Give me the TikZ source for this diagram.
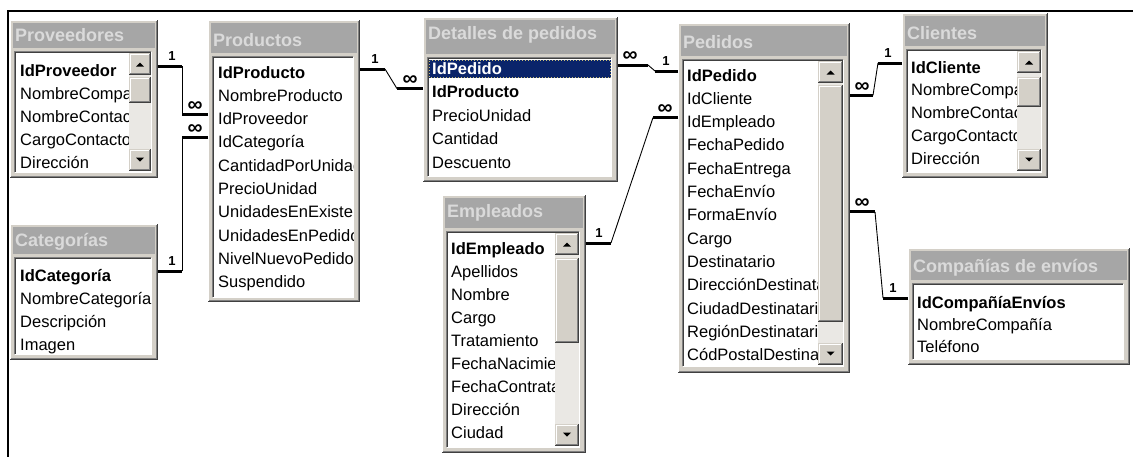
\documentclass[tikz,border=0pt]{standalone}
\usepackage{fontspec}
\setmainfont{Liberation Sans}
\usetikzlibrary{calc}
\definecolor{face}{RGB}{212,208,200}
\definecolor{btnshadow}{RGB}{128,128,128}
\definecolor{dkshadow}{RGB}{64,64,64}
\definecolor{tband}{RGB}{166,166,166}
\definecolor{ttext}{RGB}{218,218,218}
\definecolor{track}{RGB}{234,232,228}
\definecolor{navy}{RGB}{10,36,106}
\definecolor{focus}{RGB}{200,190,120}
\tikzset{
 tbl/.style={fill=face, inner sep=0, outer sep=0, draw=none},
 ttl/.style={anchor=west, inner sep=0, text=ttext, font=\bfseries\fontsize{18}{18}\selectfont},
 rowtxt/.style={anchor=base west, inner sep=0, font=\fontsize{16.5}{18}\selectfont},
 relthick/.style={line width=3pt},
 relthin/.style={line width=0.9pt},
 cardone/.style={inner sep=0, font=\bfseries\fontsize{13}{13}\selectfont},
 cardmany/.style={inner sep=0, font=\bfseries\fontsize{21}{21}\selectfont},
}
% name, x0, y0, x1, y1, title, titleY, listTop, listBottom
\newcommand\acctbl[9]{%
 \node[tbl, minimum width={#4-#2}, minimum height={#5-#3}, anchor=north west] (#1) at (#2,#3) {};
 \draw[white, line width=1pt] (#2+0.5,#5) -- (#2+0.5,#3+0.5) -- (#4,#3+0.5);
 \draw[btnshadow, line width=1pt] (#4-1.5,#3+1) -- (#4-1.5,#5-1.5) -- (#2+1,#5-1.5);
 \draw[dkshadow, line width=1pt] (#4-0.5,#3) -- (#4-0.5,#5-0.5) -- (#2,#5-0.5);
 \fill[tband] (#2+3,#3+3) rectangle (#4-3,#8-4);
 \node[ttl] (#1t) at (#2+5,#7) {#6};
 \fill[white] (#2+5,#8) rectangle (#4-7,#9);
 \draw[btnshadow, line width=1pt] (#2+4.5,#9) -- (#2+4.5,#8-0.5) -- (#4-7,#8-0.5);
 \draw[dkshadow, line width=1pt] (#2+5.5,#9) -- (#2+5.5,#8+0.5) -- (#4-7,#8+0.5);
 \draw[white, line width=1pt] (#2+5,#9+0.5) -- (#4-6.5,#9+0.5) -- (#4-6.5,#8);
}
\newcommand\accrows[5]{\foreach \rw [count=\i] in {#5}{\node[rowtxt] (#1\i) at (#2,{#3+(\i-1)*#4}) {\rw};}}
\newcommand\accbtn[4]{%
 \fill[face] (#1,#2) rectangle (#3,#4);
 \draw[white, line width=1pt] (#1+1.5,#4-1) -- (#1+1.5,#2+1.5) -- (#3-1,#2+1.5);
 \draw[btnshadow, line width=1pt] (#3-1.5,#2+1) -- (#3-1.5,#4-1.5) -- (#1+1,#4-1.5);
 \draw[dkshadow, line width=1pt] (#3-0.5,#2) -- (#3-0.5,#4-0.5) -- (#1,#4-0.5);
}
% x0 x1 top thumbTop thumbBot bottom
\newcommand\accsb[6]{%
 \fill[track] (#1,#3) rectangle (#2,#6);
 \accbtn{#1}{#3}{#2}{#3+22}
 \accbtn{#1}{#4}{#2}{#5}
 \accbtn{#1}{#6-22}{#2}{#6}
 \fill ({(#1+#2)/2-4},#3+13.5) -- ({(#1+#2)/2+4},#3+13.5) -- ({(#1+#2)/2},#3+9.5) -- cycle;
 \fill ({(#1+#2)/2-4},#6-13.5) -- ({(#1+#2)/2+4},#6-13.5) -- ({(#1+#2)/2},#6-9.5) -- cycle;
}
\begin{document}
\begin{tikzpicture}[x=1pt,y=-1pt]
\useasboundingbox (0,0) rectangle (1133,456);
\fill[white] (0,0) rectangle (1133,456);
\draw[line width=2.2pt] (8,457) -- (8,11) -- (1134,11);

% Proveedores
\acctbl{prov}{10}{20}{158}{178}{Proveedores}{35}{52}{172}
\begin{scope}\clip (16,53) rectangle (129,171);
\accrows{prov}{20}{76}{23}{\textbf{IdProveedor},NombreCompañía,NombreContacto,CargoContacto,Dirección}
\end{scope}
\accsb{129}{151}{53}{77}{103}{171}

% Categorias
\acctbl{cat}{10}{224}{158}{360}{Categorías}{242}{258}{354}
\begin{scope}\clip (16,259) rectangle (151,353);
\accrows{cat}{20}{281}{23}{\textbf{IdCategoría},NombreCategoría,Descripción,Imagen}
\end{scope}

% Productos
\acctbl{prod}{208}{20}{360}{302}{Productos}{40}{57}{297}
\begin{scope}\clip (214,58) rectangle (353,296);
\accrows{prod}{218}{78}{23.3}{\textbf{IdProducto},NombreProducto,IdProveedor,IdCategoría,CantidadPorUnidad,PrecioUnidad,UnidadesEnExistencia,UnidadesEnPedido,NivelNuevoPedido,Suspendido}
\end{scope}

% Detalles de pedidos
\acctbl{det}{423}{17}{618}{182}{Detalles de pedidos}{35}{58}{176}
\begin{scope}\clip (429,59) rectangle (611,175);
\fill[navy] (429,60) rectangle (611,78);
\draw[focus, dotted, line width=1pt] (429.5,60.5) rectangle (610.5,77.5);
\accrows{det}{432}{74}{23.6}{\textcolor{white}{\textbf{IdPedido}},\textbf{IdProducto},PrecioUnidad,Cantidad,Descuento}
\end{scope}

% Empleados
\acctbl{emp}{442}{195}{586}{453}{Empleados}{213}{232}{447}
\begin{scope}\clip (448,233) rectangle (555,446);
\accrows{emp}{451}{254}{23.1}{\textbf{IdEmpleado},Apellidos,Nombre,Cargo,Tratamiento,FechaNacimiento,FechaContratación,Dirección,Ciudad}
\end{scope}
\accsb{555}{579}{233}{258}{343}{446}

% Pedidos
\acctbl{ped}{678}{23}{850}{373}{Pedidos}{42}{60}{366}
\begin{scope}\clip (684,61) rectangle (818,365);
\accrows{ped}{687}{81}{23.3}{\textbf{IdPedido},IdCliente,IdEmpleado,FechaPedido,FechaEntrega,FechaEnvío,FormaEnvío,Cargo,Destinatario,DirecciónDestinatario,CiudadDestinatario,RegiónDestinatario,CódPostalDestinatario}
\end{scope}
\accsb{818}{843}{61}{85}{322}{365}

% Clientes
\acctbl{cli}{902}{13}{1048}{178}{Clientes}{33}{50}{172}
\begin{scope}\clip (908,51) rectangle (1017,171);
\accrows{cli}{911}{73}{22.8}{\textbf{IdCliente},NombreCompañía,NombreContacto,CargoContacto,Dirección}
\end{scope}
\accsb{1017}{1041}{51}{77}{107}{171}

% Compañias de envios
\acctbl{comp}{908}{248}{1130}{365}{Compañías de envíos}{268}{284}{359}
\begin{scope}\clip (914,285) rectangle (1123,358);
\accrows{comp}{917}{308}{22}{\textbf{IdCompañíaEnvíos},NombreCompañía,Teléfono}
\end{scope}

% Relationships
% Proveedores -> Productos
\coordinate (a1) at ($(prov.east |- prov1.base)+(0,-10)$);
\coordinate (b1) at ($(prod.west |- prod3.base)+(0,-10)$);
\draw[relthick] (a1) -- ++(24,0) coordinate (a1k);
\draw[relthick] (b1) -- ++(-26,0) coordinate (b1k);
\draw[relthin] (a1k) -- (b1k);
\node[cardone] at ($(a1)+(14,-10)$) {1};
\node[cardmany] at ($(b1)+(-13,-8)$) {∞};
% Categorias -> Productos
\coordinate (a2) at ($(cat.east |- cat1.base)+(0,-10)$);
\coordinate (b2) at ($(prod.west |- prod4.base)+(0,-10)$);
\draw[relthick] (a2) -- ++(24,0) coordinate (a2k);
\draw[relthick] (b2) -- ++(-26,0) coordinate (b2k);
\draw[relthin] (a2k) -- (b2k);
\node[cardone] at ($(a2)+(14,-10)$) {1};
\node[cardmany] at ($(b2)+(-13,-8)$) {∞};
% Productos -> Detalles
\coordinate (a3) at ($(prod.east |- prod1.base)+(0,-9)$);
\coordinate (b3) at ($(det.west |- det2.base)+(0,-9)$);
\draw[relthick] (a3) -- ++(25,0) coordinate (a3k);
\draw[relthick] (b3) -- ++(-26,0) coordinate (b3k);
\draw[relthin] (a3k) -- (b3k);
\node[cardone] at ($(a3)+(15,-10)$) {1};
\node[cardmany] at ($(b3)+(-13,-8)$) {∞};
% Detalles -> Pedidos
\coordinate (a4) at ($(det.east |- det1.base)+(0,-9)$);
\coordinate (b4) at ($(ped.west |- ped1.base)+(0,-10)$);
\draw[relthick] (a4) -- ++(30,0) coordinate (a4k);
\draw[relthick] (b4) -- ++(-23,0) coordinate (b4k);
\draw[relthin] (a4k) -- (b4k);
\node[cardmany] at ($(a4)+(12,-8)$) {∞};
\node[cardone] at ($(b4)+(-12,-10)$) {1};
% Empleados -> Pedidos
\coordinate (a5) at ($(emp.east |- emp1.base)+(0,-11)$);
\coordinate (b5) at ($(ped.west |- ped3.base)+(0,-10)$);
\draw[relthick] (a5) -- ++(25,0) coordinate (a5k);
\draw[relthick] (b5) -- ++(-25,0) coordinate (b5k);
\draw[relthin] (a5k) -- (b5k);
\node[cardone] at ($(a5)+(13,-10)$) {1};
\node[cardmany] at ($(b5)+(-13,-8)$) {∞};
% Pedidos -> Clientes
\coordinate (a6) at ($(ped.east |- ped2.base)+(0,-9)$);
\coordinate (b6) at ($(cli.west |- cli1.base)+(0,-10)$);
\draw[relthick] (a6) -- ++(23,0) coordinate (a6k);
\draw[relthick] (b6) -- ++(-24,0) coordinate (b6k);
\draw[relthin] (a6k) -- (b6k);
\node[cardmany] at ($(a6)+(12,-8)$) {∞};
\node[cardone] at ($(b6)+(-14,-10)$) {1};
% Pedidos -> Companias
\coordinate (a7) at ($(ped.east |- ped7.base)+(0,-9)$);
\coordinate (b7) at ($(comp.west |- comp1.base)+(0,-10)$);
\draw[relthick] (a7) -- ++(25,0) coordinate (a7k);
\draw[relthick] (b7) -- ++(-25,0) coordinate (b7k);
\draw[relthin] (a7k) -- (b7k);
\node[cardmany] at ($(a7)+(12,-8)$) {∞};
\node[cardone] at ($(b7)+(-15,-10)$) {1};
\end{tikzpicture}
\end{document}
